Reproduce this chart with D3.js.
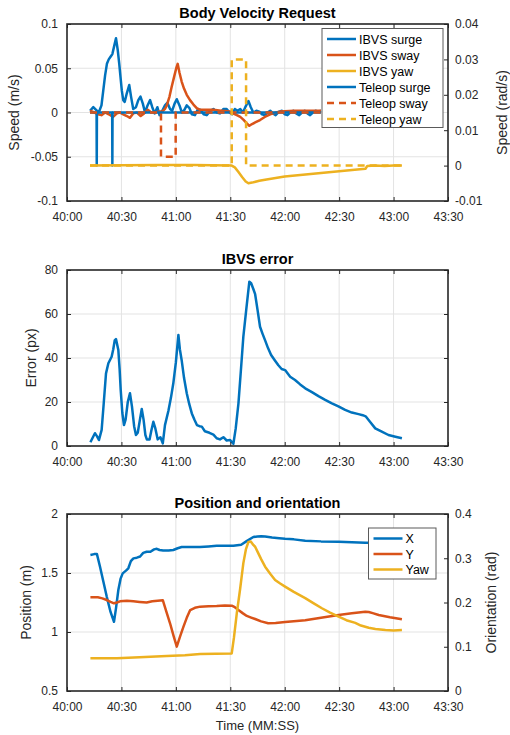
<!DOCTYPE html>
<html>
<head>
<meta charset="utf-8">
<script src="https://cdn.jsdelivr.net/npm/d3@7"></script>
<style>
  body { margin: 0; background: #fff; }
  svg { display: block; font-family: "Liberation Sans", Arial, Helvetica, sans-serif; }
  .tick text { fill: #262626; font-size: 12px; }
  .tick line { stroke: #262626; stroke-width: 1; }
  .grid line { stroke: #e3e3e3; stroke-width: 1; }
  .title { font-weight: bold; font-size: 14.5px; fill: #000; }
  .label { font-size: 14px; fill: #262626; }
  .xlabel { font-size: 13px; fill: #262626; }
  .leg text { font-size: 12.5px; fill: #000; }
</style>
</head>
<body>
<svg id="chart" width="510" height="735"></svg>
<script>

// time in seconds after 40:00
var timeTicks = [0, 30, 60, 90, 120, 150, 180, 210];

// ---- Body velocity request ----
var ibvsSurge = [[12.7,0.002],[14.5,0.006],[16,0.003],[17.5,0.0],[19,0.008],[20,0.025],[21,0.042],[22,0.055],[23,0.06],[24,0.063],
  [25,0.066],[26,0.075],[27,0.084],[28,0.07],[28.8,0.055],[29.5,0.04],[30.2,0.025],[31,0.014],[31.8,0.012],[33,0.022],[34.3,0.031],
  [35.3,0.018],[36.5,0.004],[38,0.006],[39.3,0.014],[40.5,0.018],[41.8,0.01],[43,0.0],[44.4,0.008],[45.8,0.014],[47,0.006],
  [48.3,-0.001],[49.8,0.006],[51,-0.003],[52.5,0.002],[54,0.008],[55.3,0.011],[56.8,0.004],[58,0.002],[59.3,0.01],[60.5,0.015],
  [62,0.008],[63.3,0.0],[64.7,0.003],[66,0.008],[67.5,0.005],[68.8,-0.002],[70.5,-0.003],[72,0.003],[73.5,0.003],[75.3,-0.002],
  [77,-0.003],[79,0.002],[80.7,0.004],[82.5,0.0],[84.3,-0.001],[86.2,0.004],[88,0.004],[89.6,0.0],[91,-0.002],[92.5,0.004],
  [94,0.002],[95.5,0.004],[97,0.0],[98.5,0.007],[100,0.013],[101.3,0.006],[102.7,0.0],[104.4,0.002],[106,0.001],[107.5,-0.002],
  [109,-0.003],[110.5,0.0],[112,0.002],[113.5,-0.001],[115,-0.003],[116.8,0.001],[118.5,0.002],[120,-0.002],[121.5,-0.003],
  [123,0.0],[124.7,0.002],[126.3,-0.001],[128,-0.003],[129.5,0.0],[131,0.002],[132.5,-0.001],[134,-0.003],[135.5,0.0],
  [137,0.002],[138.5,0.001],[140,0.002]];
var ibvsSway = [[12.7,0.002],[15,0.0],[17,-0.002],[19,-0.003],[21,0.0],[23,-0.002],[25.4,-0.005],[27.5,-0.001],[29,0.0],[31,-0.002],
  [33,-0.004],[34.7,-0.006],[36.5,-0.001],[38.5,0.0],[40.6,-0.004],[42.5,-0.001],[44.5,0.003],[46.5,0.0],[48.5,0.0],[50.5,0.001],
  [52.5,0.001],[54,0.004],[55,0.008],[56.5,0.018],[57.7,0.029],[59,0.04],[60.2,0.05],[61,0.055],[62,0.045],[63.2,0.035],
  [64.5,0.027],[66,0.02],[67.8,0.014],[69.7,0.009],[71.5,0.005],[73.4,0.003],[77,0.003],[80.7,0.003],[85,0.002],[89.9,0.001],
  [91.5,-0.001],[93.6,-0.003],[95.5,-0.005],[97.2,-0.008],[99,-0.012],[100.5,-0.015],[102,-0.013],[104,-0.011],[106.4,-0.0085],
  [109,-0.005],[112,-0.002],[115,0.0],[117.5,0.001],[125,0.002],[132,0.002],[140,0.002]];
var ibvsYaw = [[12.7,0],[30,0.0001],[50,0.0002],[70,0.0002],[80,0.0001],[90.8,0.0],[92.5,-0.0005],[94.5,-0.0018],[96.5,-0.0032],
  [98.5,-0.0045],[100,-0.005],[102,-0.0048],[106,-0.0043],[110,-0.0039],[115,-0.0035],[120,-0.0031],[130,-0.0026],[140,-0.0021],
  [150,-0.0016],[160,-0.0011],[164.5,-0.0009],[165.5,-0.0001],[170,0.0],[175,-0.0001],[180,0.0],[184.6,0.0]];
var teleopSurge = [[12.7,0],[16.3,0],[16.4,-0.06],[16.5,0],[24.9,0],[25,-0.06],[25.1,0],[140,0]];
var teleopSway = [[12.7,0],[51.8,0],[51.8,-0.05],[59.9,-0.05],[59.9,0],[140,0]];
var teleopYaw = [[12.7,0],[90.8,0],[90.8,0.03],[98.7,0.03],[98.7,0],[184.6,0]];

// ---- IBVS error ----
var ibvsError = [[12.9,1.7],[14,3.5],[15.4,5.8],[16.5,4.5],[17.6,2.7],[19.1,7.3],[20.3,20],[21.5,33],[22.8,37.6],[24.6,40.6],
  [25.5,44],[26.3,48],[27,48.6],[28.3,43.6],[29,35],[29.6,25.5],[30.5,15],[31.4,9.5],[32.3,12],[33.5,20],[34.7,24],[35.8,18],
  [37,9],[38,5],[39,6],[40.2,12],[41.2,16.8],[42.2,12],[43.2,5],[44,3],[45.5,3],[46.5,7],[47.6,11],[48.7,8],[50,3],[51.5,4],
  [52.8,1.2],[54,9.5],[55.9,16],[57.3,22],[58.6,28.5],[60,38],[61,47],[61.4,50.5],[62.2,44],[63.2,39],[64.5,31],[66,24],
  [67.4,19],[68.8,14.8],[70.2,12],[71.6,9.5],[73,9],[74.3,8.8],[76,6.7],[78.5,6],[80.7,5.2],[82.5,3.5],[84.3,3.0],[86.2,4],
  [88,2.5],[89.9,2.7],[91.7,1],[93,8],[94.5,19.4],[95.9,35],[97.2,49.7],[98.8,62],[100.5,74.7],[101.5,74],[102.6,71.6],
  [103.7,69],[105,62],[106.4,54.2],[107.8,51],[109.2,48],[110.8,44.5],[112.5,41.4],[114.5,39],[116.5,36.7],[118.3,35],
  [120.2,34.5],[123,31.5],[125.7,30],[128.5,28],[131.3,26.2],[135,24.5],[138.6,22.7],[142.3,21],[146,19.4],[149.6,18],
  [153.3,16.4],[157,15.2],[160.7,14.5],[163,14],[164.6,13.5],[167,11],[169.9,8],[173.5,6.5],[177.2,5],[181,4.2],[184.6,3.5]];

// ---- Position and orientation ----
var posX = [[12.9,1.653],[15,1.66],[16.5,1.66],[18.2,1.553],[20,1.43],[21.9,1.30],[24,1.17],[25.9,1.087],[27,1.2],[28.3,1.356],
  [29.5,1.45],[30.7,1.497],[32.5,1.52],[33.8,1.54],[35.2,1.6],[36.6,1.624],[38.5,1.63],[40.3,1.64],[42,1.67],[43.9,1.68],
  [46,1.68],[48,1.70],[49.5,1.705],[51,1.695],[53,1.69],[56,1.69],[58.6,1.695],[61,1.71],[63.2,1.72],[68,1.72],[73.3,1.72],
  [78,1.725],[82.5,1.73],[87,1.73],[91.7,1.73],[96,1.74],[99,1.77],[102.7,1.805],[105,1.81],[107,1.812],[109.2,1.81],
  [113,1.80],[117,1.795],[120.2,1.79],[125,1.785],[131.3,1.774],[140,1.768],[149.7,1.765],[157,1.76],[164.4,1.757],
  [175,1.755],[184.6,1.752]];
var posY = [[12.9,1.294],[17,1.294],[19.5,1.285],[21.9,1.271],[24,1.255],[25.9,1.243],[27.5,1.25],[29.2,1.26],[33,1.265],
  [36.6,1.26],[40,1.255],[43.9,1.25],[47,1.26],[50,1.265],[52.8,1.27],[54.8,1.17],[56.8,1.074],[58.7,0.97],[60.5,0.876],
  [62.3,0.96],[64.2,1.045],[66,1.12],[67.9,1.186],[70.5,1.205],[73.4,1.215],[78,1.218],[82.5,1.22],[87,1.224],[90.8,1.223],
  [92.5,1.21],[94.5,1.186],[96.8,1.16],[99.1,1.136],[101.5,1.122],[103.7,1.11],[107,1.09],[110.9,1.074],[115,1.076],
  [120.2,1.085],[125,1.092],[131.3,1.10],[140,1.12],[149.7,1.144],[157,1.158],[164.4,1.172],[166.3,1.17],[168.5,1.16],
  [171.8,1.144],[178,1.125],[184.6,1.108]];
var yaw = [[12.9,0.074],[20,0.074],[27.5,0.074],[40,0.076],[55,0.079],[65,0.081],[73.4,0.0836],[82,0.084],[90.8,0.085],
  [92,0.12],[93.6,0.176],[95.4,0.23],[97.2,0.289],[98.6,0.32],[100,0.337],[101.3,0.338],[102.7,0.33],[103.7,0.326],[105,0.315],
  [107,0.298],[109.2,0.281],[112,0.265],[114.7,0.251],[117.5,0.243],[120.2,0.236],[125,0.224],[131.3,0.21],[136,0.198],
  [140.5,0.187],[145,0.177],[149.7,0.168],[154,0.16],[158.9,0.154],[162,0.148],[166.3,0.143],[170,0.14],[175.5,0.138],
  [180,0.137],[184.6,0.138]];

var velLegend = ["IBVS surge", "IBVS sway", "IBVS yaw", "Teleop surge", "Teleop sway", "Teleop yaw"];
var posLegend = ["X", "Y", "Yaw"];

var blue = "#0072BD", red = "#D95319", yellow = "#EDB120";
var axisCol = "#262626";

var svg = d3.select("#chart");
svg.append("rect").attr("width", 510).attr("height", 735).attr("fill", "#fff");

var left = 67, right = 448;
var x = d3.scaleLinear().domain([0, 210]).range([left, right]);

function fmtTime(t) {
    var m = 40 + Math.floor(t / 60), s = t % 60;
    return m + ":" + (s < 10 ? "0" : "") + s;
}
function fmtNum(d) { return d === 0 ? "0" : String(+d.toFixed(3)); }

function drawPanel(p) {
    var g = svg.append("g");
    var y = d3.scaleLinear().domain(p.yDomain).range([p.bottom, p.top]);
    var y2 = p.y2Domain ? d3.scaleLinear().domain(p.y2Domain).range([p.bottom, p.top]) : null;

    // grid
    var grid = g.append("g").attr("class", "grid");
    grid.selectAll(".gx").data(timeTicks.slice(1, -1)).enter().append("line")
        .attr("x1", function(d) { return x(d); }).attr("x2", function(d) { return x(d); })
        .attr("y1", p.top).attr("y2", p.bottom);
    grid.selectAll(".gy").data(p.yTicks.slice(1, -1)).enter().append("line")
        .attr("x1", left).attr("x2", right)
        .attr("y1", function(d) { return y(d); }).attr("y2", function(d) { return y(d); });

    // series
    p.series.forEach(function(s) {
        var sc = s.right ? y2 : y;
        var line = d3.line().x(function(d) { return x(d[0]); }).y(function(d) { return sc(d[1]); });
        g.append("path").datum(s.data)
            .attr("d", line)
            .attr("fill", "none")
            .attr("stroke", s.color)
            .attr("stroke-width", 2.5)
            .attr("stroke-linejoin", "round")
            .attr("stroke-dasharray", s.dash ? "7,5" : null);
    });

    // axes
    var xb = g.append("g").attr("transform", "translate(0," + p.bottom + ")")
        .call(d3.axisBottom(x).tickValues(timeTicks).tickFormat(fmtTime).tickSizeInner(-4).tickSizeOuter(0).tickPadding(11));
    var xt = g.append("g").attr("transform", "translate(0," + p.top + ")")
        .call(d3.axisTop(x).tickValues(timeTicks).tickFormat("").tickSizeInner(-4).tickSizeOuter(0));
    var yl = g.append("g").attr("transform", "translate(" + left + ",0)")
        .call(d3.axisLeft(y).tickValues(p.yTicks).tickFormat(fmtNum).tickSizeInner(-4).tickSizeOuter(0).tickPadding(9));
    var yr;
    if (y2) {
        yr = g.append("g").attr("transform", "translate(" + right + ",0)")
            .call(d3.axisRight(y2).tickValues(p.y2Ticks).tickFormat(fmtNum).tickSizeInner(-4).tickSizeOuter(0).tickPadding(7));
    } else {
        yr = g.append("g").attr("transform", "translate(" + right + ",0)")
            .call(d3.axisRight(y).tickValues(p.yTicks).tickFormat("").tickSizeInner(-4).tickSizeOuter(0));
    }
    [xb, xt, yl, yr].forEach(function(a) { a.select(".domain").remove(); a.attr("font-family", null).attr("font-size", null); });

    g.append("rect").attr("x", left).attr("y", p.top)
        .attr("width", right - left).attr("height", p.bottom - p.top)
        .attr("fill", "none").attr("stroke", axisCol).attr("stroke-width", 1.6);

    // texts
    g.append("text").attr("class", "title").attr("x", (left + right) / 2).attr("y", p.top - 6.5)
        .attr("text-anchor", "middle").text(p.title);
    g.append("text").attr("class", "label")
        .attr("transform", "translate(" + p.yLabelX + "," + (p.top + p.bottom) / 2 + ") rotate(-90)")
        .attr("text-anchor", "middle").text(p.yLabel);
    if (p.y2Label) {
        g.append("text").attr("class", "label")
            .attr("transform", "translate(" + p.y2LabelX + "," + (p.top + p.bottom) / 2 + ") rotate(-90)")
            .attr("text-anchor", "middle").text(p.y2Label);
    }
    if (p.xLabel) {
        g.append("text").attr("class", "xlabel").attr("x", (left + right) / 2).attr("y", p.bottom + 39)
            .attr("text-anchor", "middle").text(p.xLabel);
    }

    // legend
    if (p.legend) {
        var L = p.legend;
        var lg = g.append("g").attr("class", "leg");
        lg.append("rect").attr("x", L.x).attr("y", L.y).attr("width", L.w).attr("height", L.h)
            .attr("fill", "#fff").attr("stroke", "#5a5a5a").attr("stroke-width", 1);
        L.names.forEach(function(name, i) {
            var s = p.series[L.order[i]];
            var cy = L.y + 10.5 + i * L.step;
            lg.append("line").attr("x1", L.x + 5).attr("x2", L.x + 34)
                .attr("y1", cy).attr("y2", cy)
                .attr("stroke", s.color).attr("stroke-width", 2.5)
                .attr("stroke-dasharray", s.dash ? "7,5" : null);
            lg.append("text").attr("x", L.x + 37).attr("y", cy + 4.5).text(name);
        });
    }
}

drawPanel({
    top: 24, bottom: 201, title: "Body Velocity Request",
    yDomain: [-0.1, 0.1], yTicks: [-0.1, -0.05, 0, 0.05, 0.1],
    y2Domain: [-0.01, 0.04], y2Ticks: [-0.01, 0, 0.01, 0.02, 0.03, 0.04],
    yLabel: "Speed (m/s)", yLabelX: 19, y2Label: "Speed (rad/s)", y2LabelX: 507,
    series: [
        { data: ibvsSurge, color: blue },
        { data: ibvsSway, color: red },
        { data: teleopSurge, color: blue },
        { data: teleopSway, color: red, dash: true },
        { data: ibvsYaw, color: yellow, right: true },
        { data: teleopYaw, color: yellow, right: true, dash: true }
    ],
    legend: { x: 322, y: 28.5, w: 121, h: 99, step: 16, names: velLegend, order: [0, 1, 4, 2, 3, 5] }
});

drawPanel({
    top: 270, bottom: 446, title: "IBVS error",
    yDomain: [0, 80], yTicks: [0, 20, 40, 60, 80],
    yLabel: "Error (px)", yLabelX: 36,
    series: [{ data: ibvsError, color: blue }]
});

drawPanel({
    top: 514, bottom: 691, title: "Position and orientation",
    yDomain: [0.5, 2], yTicks: [0.5, 1, 1.5, 2],
    y2Domain: [0, 0.4], y2Ticks: [0, 0.1, 0.2, 0.3, 0.4],
    yLabel: "Position (m)", yLabelX: 31, y2Label: "Orientation (rad)", y2LabelX: 496,
    xLabel: "Time (MM:SS)",
    series: [
        { data: posX, color: blue },
        { data: posY, color: red },
        { data: yaw, color: yellow, right: true }
    ],
    legend: { x: 368.5, y: 528, w: 67.5, h: 51, step: 15.5, names: posLegend, order: [0, 1, 2] }
});

</script>
</body>
</html>
